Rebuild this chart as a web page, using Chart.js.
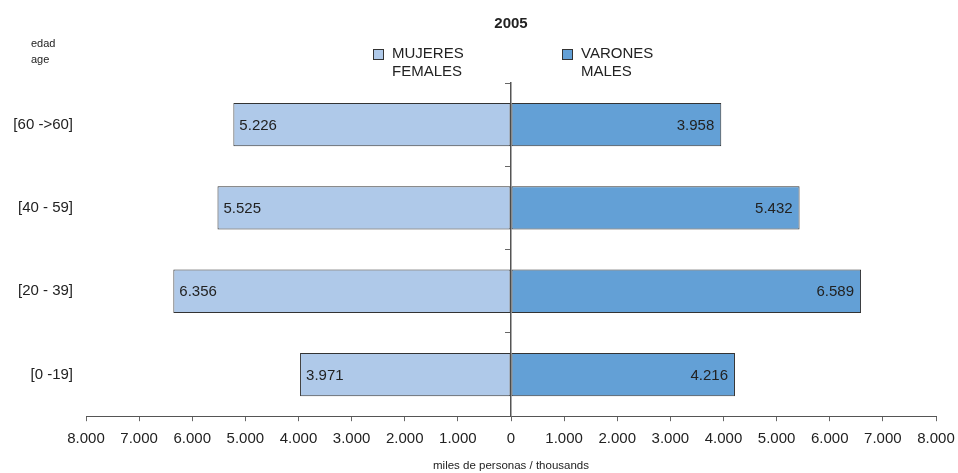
<!DOCTYPE html>
<html lang="es">
<head>
  <meta charset="UTF-8" />
  <title>Pirámide 2005</title>
  <script src="https://cdn.jsdelivr.net/npm/chart.js"></script>
  <style>
    body { margin: 0; font-family: "Liberation Sans", Arial, sans-serif; color: #222; }
    #caja { position: relative; width: 958px; height: 473px; }
    #edad { position: absolute; left: 31px; top: 35px; font-size: 11px; line-height: 16px; }
    .leyenda { position: absolute; top: 44px; font-size: 15px; line-height: 18px; padding-left: 19px; }
    .leyenda span { position: absolute; left: 0; top: 5px; width: 9px; height: 9px; border: 1px solid #333; }
  </style>
</head>
<body>
  <div id="caja">
    <canvas id="grafico" width="958" height="473"></canvas>
    <div id="edad">edad<br>age</div>
    <div class="leyenda" style="left:373px"><span style="background:#afc9e9"></span>MUJERES<br>FEMALES</div>
    <div class="leyenda" style="left:562px"><span style="background:#63a0d6"></span>VARONES<br>MALES</div>
  </div>

  <script>
    // datos (miles de personas)
    const edades = ['[60 ->60]', '[40 - 59]', '[20 - 39]', '[0 -19]'];
    const mujeres = [5226, 5525, 6356, 3971];
    const varones = [3958, 5432, 6589, 4216];

    const fuente = '"Liberation Sans", Arial, sans-serif';
    Chart.defaults.font.family = fuente;
    Chart.defaults.color = '#222';

    function miles(v) {
      return String(Math.abs(v)).replace(/\B(?=(\d{3})+(?!\d))/g, '.');
    }

    // numeros dentro de las barras
    const etiquetas = {
      id: 'etiquetas',
      afterDatasetsDraw(chart) {
        const ctx = chart.ctx;
        ctx.save();
        ctx.font = '15px ' + fuente;
        ctx.fillStyle = '#222';
        ctx.textBaseline = 'middle';
        chart.data.datasets.forEach((ds, i) => {
          chart.getDatasetMeta(i).data.forEach((bar, j) => {
            const txt = miles(ds.data[j]);
            if (ds.data[j] < 0) {
              ctx.textAlign = 'left';
              ctx.fillText(txt, bar.x + 6, bar.y + 1);
            } else {
              ctx.textAlign = 'right';
              ctx.fillText(txt, bar.x - 7, bar.y + 1);
            }
          });
        });
        ctx.restore();
      }
    };

    const ctx = document.getElementById('grafico').getContext('2d');
    new Chart(ctx, {
      type: 'bar',
      data: {
        labels: edades,
        datasets: [
          {
            label: 'MUJERES / FEMALES',
            data: mujeres.map(v => -v),
            backgroundColor: '#afc9e9',
            borderColor: '#333',
            borderWidth: 1,
            borderSkipped: false
          },
          {
            label: 'VARONES / MALES',
            data: varones,
            backgroundColor: '#63a0d6',
            borderColor: '#333',
            borderWidth: 1,
            borderSkipped: false
          }
        ]
      },
      options: {
        indexAxis: 'y',
        responsive: false,
        animation: false,
        barPercentage: 0.52,
        categoryPercentage: 1,
        layout: { padding: { right: 22 } },
        plugins: {
          legend: { display: false },
          tooltip: { enabled: false },
          title: {
            display: true,
            text: '2005',
            fullSize: false,
            color: '#222',
            font: { size: 15, weight: 'bold' },
            padding: { top: 15, bottom: 50 }
          }
        },
        scales: {
          x: {
            stacked: true,
            min: -8000,
            max: 8000,
            ticks: { stepSize: 1000, padding: 9, font: { size: 15 }, callback: v => miles(v) },
            grid: { drawOnChartArea: false, tickLength: 5, color: '#666' },
            border: { color: '#555' },
            title: {
              display: true,
              text: 'miles de personas / thousands',
              font: { size: 11.5 },
              padding: { top: 2, bottom: 0 }
            },
            afterFit: s => { s.paddingLeft = 0; s.paddingRight = 0; }
          },
          y: {
            stacked: true,
            ticks: { padding: 13, font: { size: 15 } },
            grid: { display: false, drawTicks: false },
            border: { display: false },
            afterFit: s => { s.width = 86; }
          },
          y2: {
            type: 'category',
            axis: 'y',
            position: { x: 0 },
            offset: true,
            ticks: { display: false },
            grid: { drawOnChartArea: false, offset: true, tickLength: 5, color: '#666' },
            border: { color: '#555', width: 1.5 },
            afterFit: s => { s.width = 0; }
          }
        }
      },
      plugins: [etiquetas]
    });
  </script>
</body>
</html>
